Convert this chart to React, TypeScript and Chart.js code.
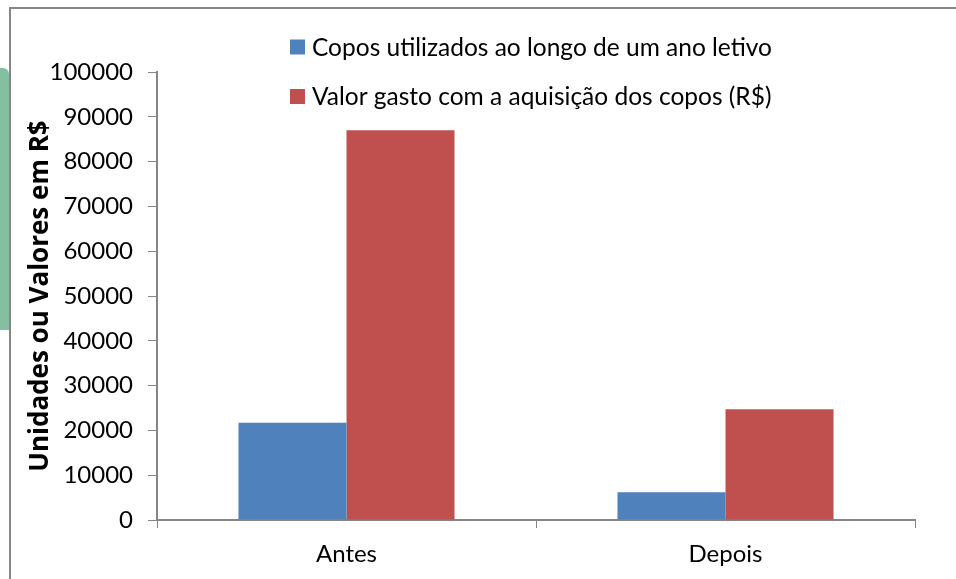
import React, { useEffect, useRef } from "react";
import { Chart, registerables } from "chart.js";

Chart.register(...registerables);

const categories = ["Antes", "Depois"];
const cupsUsed = [21700, 6200];
const amountSpent = [87000, 24700];
const seriesLabels = [
  "Copos utilizados ao longo de um ano letivo",
  "Valor gasto com a aquisição dos copos (R$)",
];
const seriesColors = ["#4F81BD", "#C0504D"];
const yMin = 0;
const yMax = 100000;
const yStep = 10000;
const yAxisTitle = "Unidades ou Valores em R$";

const FONT = "Lato, 'Open Sans', sans-serif";
const TITLE_FONT = "'Open Sans', Lato, sans-serif";
const AXIS_GRAY = "#868686";

const legendPlugin = {
  id: "customLegend",
  afterDraw(chart: any) {
    const ctx = chart.ctx;
    ctx.save();
    ctx.font = `24.5px ${FONT}`;
    ctx.textBaseline = "middle";
    ctx.textAlign = "left";
    chart.data.datasets.forEach((ds: any, i: number) => {
      const y = 47 + i * 49.5;
      ctx.fillStyle = ds.backgroundColor;
      ctx.fillRect(290, y - 7.5, 15, 15);
      ctx.fillStyle = "#000";
      ctx.fillText(ds.label, 312, y + 1);
    });
    ctx.restore();
  },
};

export default function App() {
  const ref = useRef<HTMLCanvasElement | null>(null);

  useEffect(() => {
    if (!ref.current) return;
    const chart = new Chart(ref.current, {
      type: "bar",
      data: {
        labels: categories,
        datasets: [
          {
            label: seriesLabels[0],
            data: cupsUsed,
            backgroundColor: seriesColors[0],
            borderWidth: 0,
          },
          {
            label: seriesLabels[1],
            data: amountSpent,
            backgroundColor: seriesColors[1],
            borderWidth: 0,
          },
        ],
      },
      options: {
        animation: false,
        responsive: false,
        devicePixelRatio: 1,
        datasets: {
          bar: { categoryPercentage: 0.57, barPercentage: 1 },
        },
        layout: { padding: { left: 22, top: 72, right: 41, bottom: 0 } },
        plugins: {
          legend: { display: false },
          tooltip: { enabled: false },
        },
        scales: {
          x: {
            grid: {
              display: true,
              drawOnChartArea: false,
              drawTicks: true,
              tickLength: 8,
              color: AXIS_GRAY,
              offset: true,
            },
            border: { color: AXIS_GRAY, width: 2 },
            ticks: {
              color: "#000",
              font: { family: FONT, size: 24 },
              padding: 12,
            },
            afterFit(scale: any) {
              scale.height = 59;
            },
          },
          y: {
            min: yMin,
            max: yMax,
            ticks: {
              stepSize: yStep,
              color: "#000",
              font: { family: FONT, size: 24 },
              padding: 15,
              callback: (v: any) => String(v),
            },
            grid: {
              display: true,
              drawOnChartArea: false,
              drawTicks: true,
              tickLength: 9,
              color: AXIS_GRAY,
            },
            border: { color: AXIS_GRAY, width: 2 },
            title: {
              display: true,
              text: yAxisTitle,
              color: "#000",
              font: { family: TITLE_FONT, size: 26, weight: "bold" },
              padding: { top: 3, bottom: 3 },
            },
            afterFit(scale: any) {
              scale.width = 135;
            },
          },
        },
      },
      plugins: [legendPlugin],
    });
    return () => chart.destroy();
  }, []);

  return (
    <div
      style={{
        position: "fixed",
        left: 0,
        top: 0,
        width: 956,
        height: 579,
        background: "#fff",
        overflow: "hidden",
      }}
    >
      <div
        style={{
          position: "absolute",
          left: 0,
          top: 68,
          width: 9,
          height: 262,
          background: "#85BFA2",
          borderTopRightRadius: 6,
        }}
      />
      <div
        style={{
          position: "absolute",
          left: 9,
          top: 7,
          width: 1000,
          height: 1000,
          borderLeft: `2px solid ${AXIS_GRAY}`,
          borderTop: `2px solid ${AXIS_GRAY}`,
        }}
      />
      <canvas
        ref={ref}
        width={956}
        height={579}
        style={{ position: "absolute", left: 0, top: 0 }}
      />
    </div>
  );
}
